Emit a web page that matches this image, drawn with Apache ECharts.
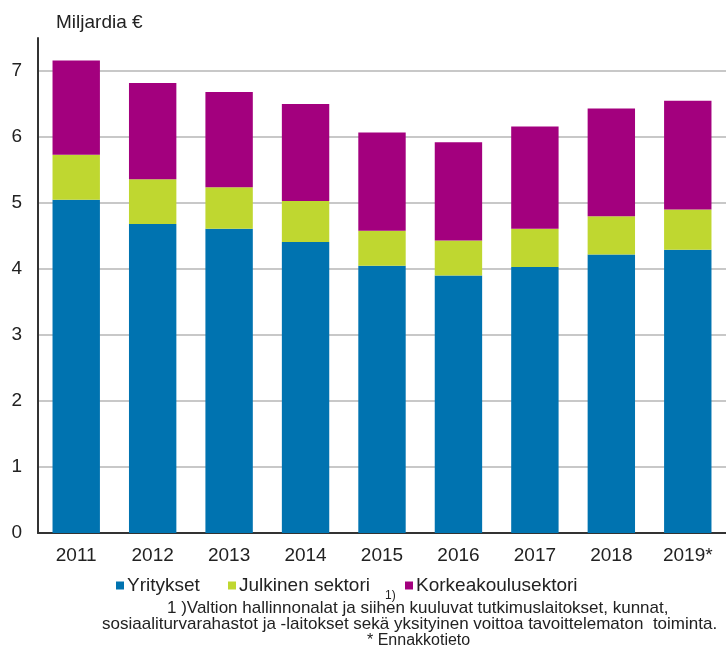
<!DOCTYPE html>
<html>
<head>
<meta charset="utf-8">
<script src="https://cdn.jsdelivr.net/npm/echarts@6/dist/echarts.min.js"></script>
<style>
  html, body { margin: 0; padding: 0; background: #fff; }
  #chart { width: 726px; height: 651px; }
</style>
</head>
<body>
<div id="chart"></div>
<script>
var years = ['2011', '2012', '2013', '2014', '2015', '2016', '2017', '2018', '2019*']
var yritykset = [5.05, 4.68, 4.61, 4.41, 4.05, 3.90, 4.03, 4.22, 4.29]
var julkinen = [0.68, 0.68, 0.63, 0.62, 0.53, 0.53, 0.58, 0.58, 0.61]
var korkeakoulu = [1.43, 1.46, 1.44, 1.47, 1.49, 1.49, 1.55, 1.63, 1.65]
var yTicks = [0, 1, 2, 3, 4, 5, 6, 7]
var seriesNames = ['Yritykset', 'Julkinen sektori', 'Korkeakoulusektori']

var font = 'Liberation Sans, Arial, sans-serif'
var myChart = echarts.init(document.getElementById('chart'))

// sarjat pinotaan samaan pylvääseen
function bar (name, data, color) {
  return {
    name: name,
    type: 'bar',
    stack: 'total',
    data: data,
    barCategoryGap: '38%',
    itemStyle: { color: color }
  }
}

// selite: jokainen nimike omaan kohtaansa
function legendItem (name, left) {
  return {
    left: left,
    top: 576,
    padding: 0,
    itemWidth: 8,
    itemHeight: 8,
    icon: 'rect',
    textStyle: { fontSize: 19, color: '#222', fontFamily: font, padding: [0, 0, 0, -2] },
    data: [name]
  }
}

// ylin (7.5) apuviiva piiloon
var gridColors = yTicks.map(function () { return '#c8c8c8' }).concat(['rgba(0,0,0,0)'])

var option = {
  animation: false,
  textStyle: { fontFamily: font },
  grid: { left: 38, top: 38, width: 692, bottom: 118, containLabel: false },
  xAxis: {
    type: 'category',
    data: years,
    axisLine: { lineStyle: { color: '#333', width: 2 } },
    axisTick: { show: false },
    axisLabel: { color: '#222', fontSize: 19, margin: 13, fontFamily: font }
  },
  yAxis: {
    type: 'value',
    min: 0,
    max: 7.5,
    interval: 1,
    axisLine: { show: true, lineStyle: { color: '#333', width: 2 } },
    axisTick: { show: false },
    splitLine: { lineStyle: { color: gridColors, width: 2 } },
    axisLabel: {
      color: '#222',
      fontSize: 19,
      margin: 16,
      fontFamily: font,
      formatter: function (v) { return yTicks.indexOf(v) >= 0 ? String(v) : '' }
    }
  },
  legend: [
    legendItem(seriesNames[0], 116),
    legendItem(seriesNames[1], 228),
    legendItem(seriesNames[2], 405)
  ],
  graphic: [
    { type: 'text', left: 56, top: 13, style: { text: 'Miljardia €', fontSize: 19, fill: '#222', fontFamily: font } },
    { type: 'text', left: 385, top: 590, style: { text: '1)', fontSize: 12, fill: '#222', fontFamily: font } },
    { type: 'text', left: 167, top: 600, style: { text: '1 )Valtion hallinnonalat ja siihen kuuluvat tutkimuslaitokset, kunnat,', fontSize: 17, fill: '#222', fontFamily: font } },
    { type: 'text', left: 102, top: 616, style: { text: 'sosiaaliturvarahastot ja -laitokset sekä yksityinen voittoa tavoittelematon  toiminta.', fontSize: 17, fill: '#222', fontFamily: font } },
    { type: 'text', left: 367, top: 633, style: { text: '* Ennakkotieto', fontSize: 16, fill: '#222', fontFamily: font } }
  ],
  series: [
    bar(seriesNames[0], yritykset, '#0073b0'),
    bar(seriesNames[1], julkinen, '#bfd730'),
    bar(seriesNames[2], korkeakoulu, '#a3007e')
  ]
}

myChart.setOption(option)
</script>
</body>
</html>
